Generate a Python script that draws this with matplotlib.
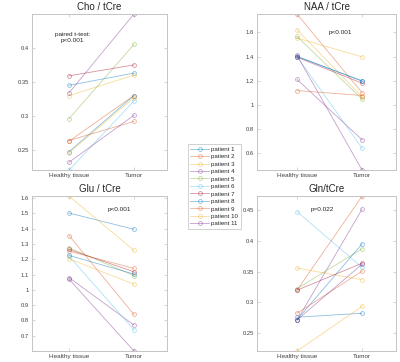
import matplotlib
matplotlib.use("Agg")
import matplotlib.pyplot as plt
from matplotlib.ticker import FuncFormatter

plt.rcParams['font.family'] = ['Liberation Sans', 'DejaVu Sans']

patients = [f"patient {i}" for i in range(1, 12)]
conditions = ["Healthy tissue", "Tumor"]

cho_healthy = [0.345, 0.263, 0.330, 0.334, 0.296, 0.2205, 0.359, 0.2475, 0.264, 0.246, 0.232]
cho_tumor   = [0.363, 0.330, 0.360, 0.4496, 0.405, 0.322, 0.375, 0.330, 0.292, 0.327, 0.301]

naa_healthy = [1.400, 1.752, 1.622, 1.211, 1.567, 1.400, 1.395, 1.403, 1.119, 1.553, 1.410]
naa_tumor   = [1.200, 1.100, 1.067, 0.711, 1.047, 0.641, 1.180, 1.196, 1.078, 1.398, 0.460]

glu_healthy = [1.502, 1.355, 1.613, 1.080, 1.275, 1.220, 1.264, 1.225, 1.253, 1.203, 1.070]
glu_tumor   = [1.396, 0.839, 1.258, 0.770, 1.093, 0.739, 1.118, 1.103, 1.140, 1.037, 0.600]

gln_healthy = [0.276, 0.320, 0.356, 0.271, 0.3225, 0.448, 0.320, 0.272, 0.2825, 0.221, 0.2715]
gln_tumor   = [0.2825, 0.4733, 0.337, 0.452, 0.3876, 0.357, 0.364, 0.3956, 0.351, 0.2937, 0.3625]

titles = ["Cho / tCre", "NAA / tCre", "Glu / tCre", "Gln/tCre"]
annotations = ["paired t-test:\np<0.001", "p<0.001", "p<0.001", "p=0.022"]

colors = ['#0072BD', '#D95319', '#EDB120', '#7E2F8E', '#77AC30', '#4DBEEE', '#A2142F']

fig = plt.figure(figsize=(4.0, 3.62), dpi=100)

positions = [
    [0.08, 0.530, 0.3375, 0.431],
    [0.6425, 0.530, 0.3475, 0.431],
    [0.08, 0.0304, 0.3375, 0.428],
    [0.6425, 0.0304, 0.3475, 0.428],
]
xlims = [(0.43, 2.51), (0.385, 2.52), (0.43, 2.51), (0.385, 2.52)]
ann_pos = [(0.30, 0.85), (0.60, 0.88), (0.645, 0.914), (0.47, 0.916)]
yticks = [
    [0.25, 0.3, 0.35, 0.4],
    [0.6, 0.8, 1.0, 1.2, 1.4, 1.6],
    [0.7, 0.8, 0.9, 1.0, 1.1, 1.2, 1.3, 1.4, 1.5, 1.6],
    [0.25, 0.3, 0.35, 0.4, 0.45],
]
data = [(cho_healthy, cho_tumor), (naa_healthy, naa_tumor),
        (glu_healthy, glu_tumor), (gln_healthy, gln_tumor)]

spine_col = '#c4c4c4'
text_col = '#404040'
handles = []
for k in range(4):
    ax = fig.add_axes(positions[k])
    h, t = data[k]
    for i in range(11):
        c = colors[i % 7]
        ln, = ax.plot([1, 2], [h[i], t[i]], '-o', color=c, alpha=0.45, lw=0.6,
                      markersize=2.8, markerfacecolor='none', markeredgewidth=0.6,
                      label=patients[i])
        if k == 0:
            handles.append(ln)
    allv = list(h) + list(t)
    ax.set_ylim(min(allv), max(allv))
    ax.set_xlim(*xlims[k])
    ax.set_xticks([1, 2])
    ax.set_xticklabels(conditions)
    ax.set_yticks(yticks[k])
    ax.yaxis.set_major_formatter(FuncFormatter(lambda v, p: f"{v:g}"))
    ax.tick_params(direction='in', length=2, width=0.5, color=spine_col,
                   labelsize=4.2, labelcolor=text_col, top=True, right=True, pad=2)
    ax.tick_params(axis='x', labelsize=4.6, pad=2)
    for s in ax.spines.values():
        s.set_color(spine_col)
        s.set_linewidth(0.7)
    ax.set_title(titles[k], fontsize=7.0, color='#262626', pad=3)
    ax.text(ann_pos[k][0], ann_pos[k][1], annotations[k], transform=ax.transAxes,
            ha='center', va='center', fontsize=4.6, color='#262626', linespacing=1.1)

leg = fig.legend(handles=handles, loc='upper left', bbox_to_anchor=(188/400, 1-144/362),
                 fontsize=4.4, frameon=True, handlelength=3.0, handletextpad=0.4,
                 labelspacing=0.36, borderpad=0.4, borderaxespad=0)
leg.get_frame().set_edgecolor('#bdbdbd')
leg.get_frame().set_linewidth(0.6)
leg.get_frame().set_boxstyle('square', pad=0)
for txt in leg.get_texts():
    txt.set_color('#262626')

fig.savefig("out.png", dpi=100)
